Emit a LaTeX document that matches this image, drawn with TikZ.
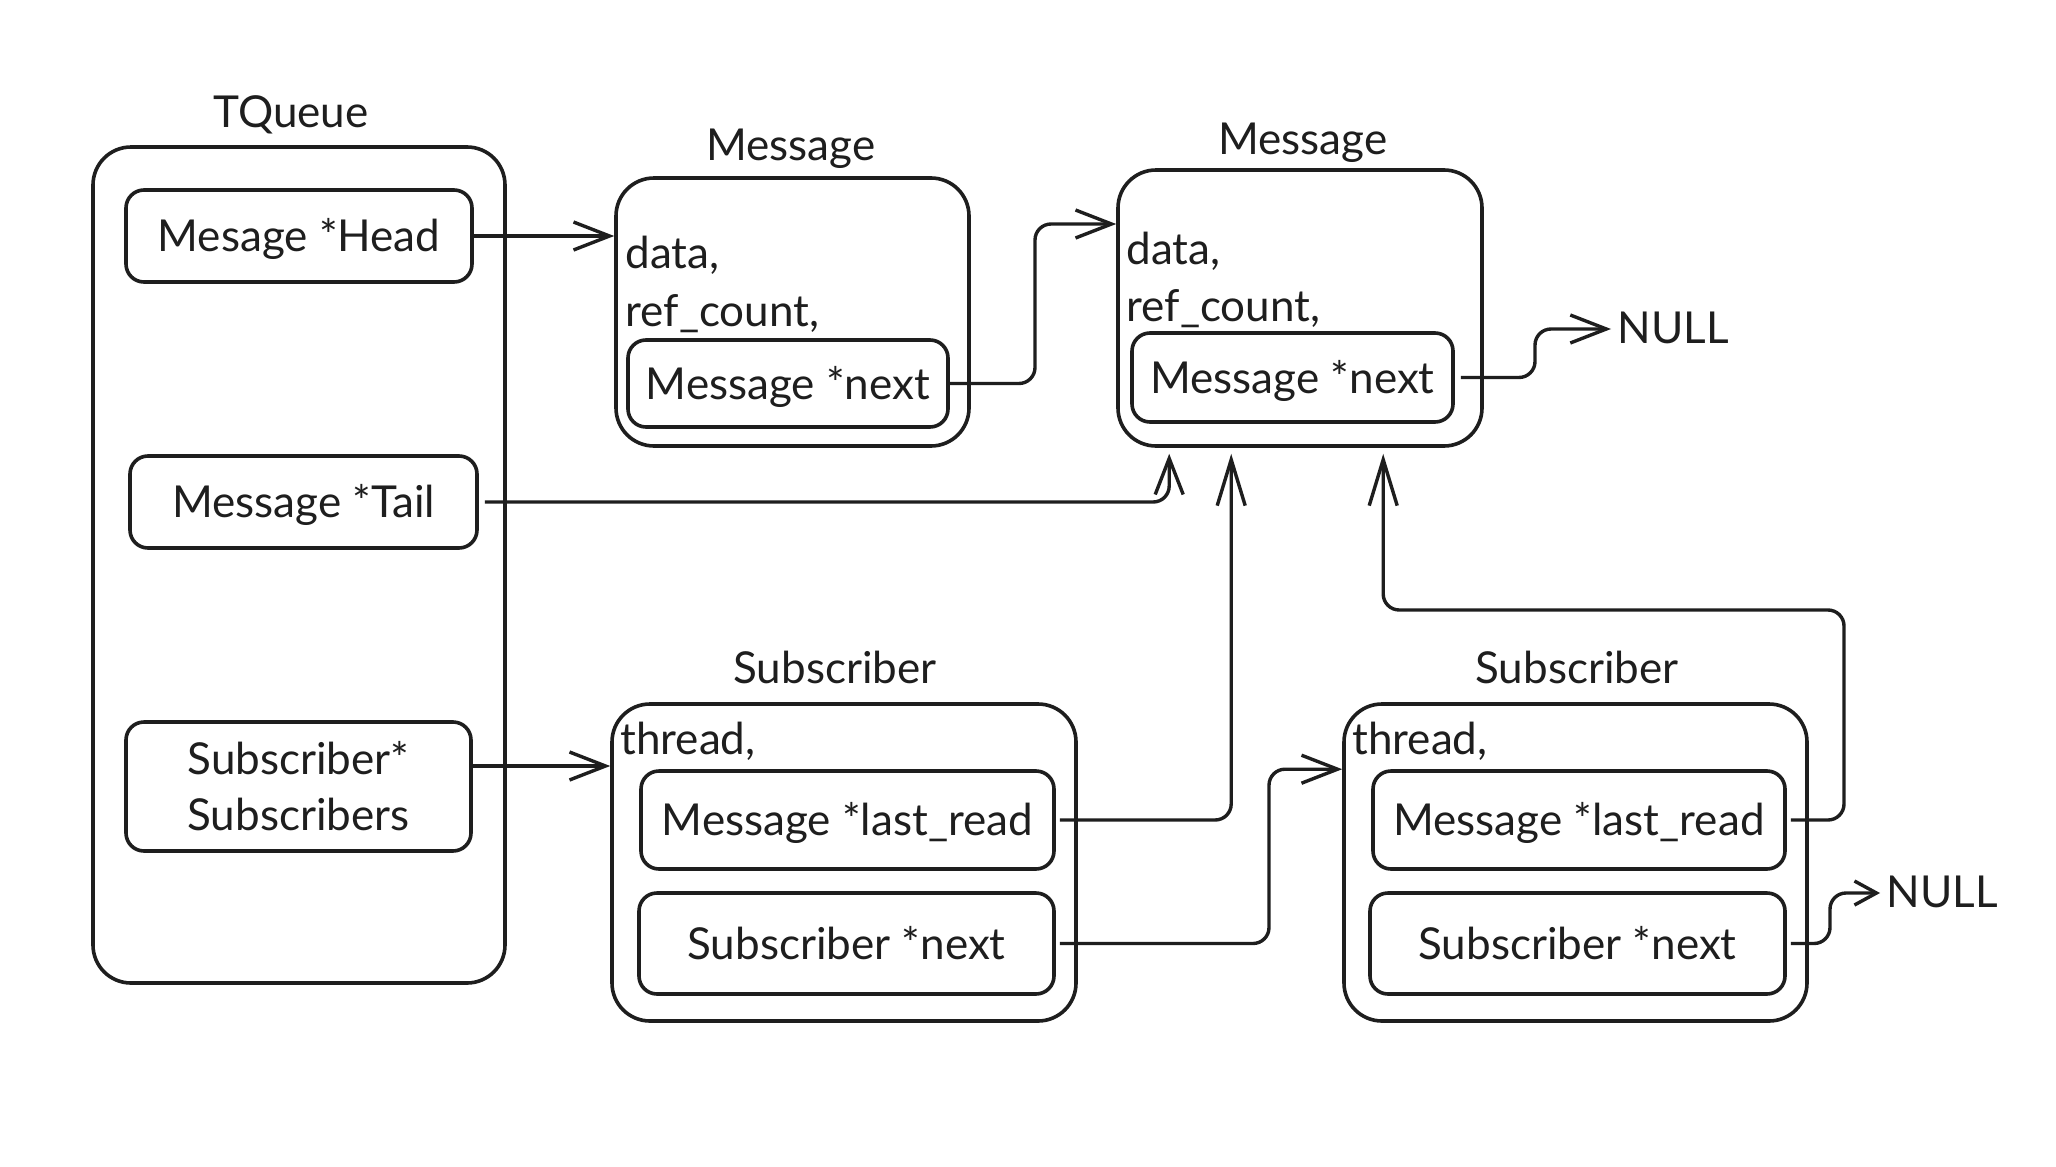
\documentclass[tikz,border=0pt]{standalone}
\usepackage{fontspec}
\setmainfont{Lato}
\usetikzlibrary{arrows.meta}
\definecolor{ink}{RGB}{30,30,30}
\newcommand\tf{\fontsize{22}{28}\selectfont}
\begin{document}
\begin{tikzpicture}[x=0.5pt,y=-0.5pt,
  outerbox/.style={draw=ink, line width=1.8pt, rounded corners=19pt, inner sep=0pt},
  innerbox/.style={draw=ink, line width=1.8pt, rounded corners=9pt, inner sep=0pt, font=\tf, text=ink, align=center},
  oneline/.style={text height=15.8pt, text depth=0pt},
  lbl/.style={font=\tf, text=ink, inner sep=0pt},
  arr/.style={draw=ink, line width=1.7pt, rounded corners=8pt, -{Straight Barb[length=18pt,width=14pt,line width=1.7pt]}},
  bigtip/.style={-{Straight Barb[length=23pt,width=14pt,line width=1.7pt]}},
  smalltip/.style={-{Straight Barb[length=11pt,width=12pt,line width=1.7pt]}},
]
\useasboundingbox (0,0) rectangle (2056,1167);
\fill[white] (0,0) rectangle (2056,1167);

% TQueue
\node[lbl, anchor=base] (tql) at (291,127) {TQueue};
\node[outerbox, minimum width=206pt, minimum height=418pt] (tq) at (299,565) {};
\node[innerbox, oneline, minimum width=173pt, minimum height=46pt] (head) at (299,236) {Mesage *Head};
\node[innerbox, oneline, minimum width=173.5pt, minimum height=46pt] (tail) at (303.5,502) {Message *Tail};
\node[innerbox, minimum width=172.5pt, minimum height=64.5pt] (subs) at (298.5,786.5) {Subscriber*\\Subscribers};

% Message 1
\node[lbl, anchor=base] (m1l) at (791,160) {Message};
\node[outerbox, minimum width=176.5pt, minimum height=134pt] (m1) at (792.5,312) {};
\node[lbl, anchor=base west] (m1d) at (625,268) {data,};
\node[lbl, anchor=base west] (m1r) at (625,326) {ref\_count,};
\node[innerbox, oneline, minimum width=160pt, minimum height=43.5pt] (m1next) at (788,383.5) {Message *next};

% Message 2
\node[lbl, anchor=base] (m2l) at (1303,154) {Message};
\node[outerbox, minimum width=182pt, minimum height=138pt] (m2) at (1300,308) {};
\node[lbl, anchor=base west] (m2d) at (1126,264) {data,};
\node[lbl, anchor=base west] (m2r) at (1126,321) {ref\_count,};
\node[innerbox, oneline, minimum width=160.5pt, minimum height=44.5pt] (m2next) at (1292.5,377.5) {Message *next};
\node[lbl, anchor=base west] (null1) at (1617,343) {NULL};

% Subscriber 1
\node[lbl, anchor=base] (s1l) at (835,683) {Subscriber};
\node[outerbox, minimum width=232pt, minimum height=158.5pt] (s1) at (844,862.5) {};
\node[lbl, anchor=base west] (s1t) at (620,754) {thread,};
\node[innerbox, oneline, minimum width=206.5pt, minimum height=49pt] (s1last) at (847.5,820) {Message *last\_read};
\node[innerbox, oneline, minimum width=207.5pt, minimum height=50.5pt] (s1next) at (846.5,943.5) {Subscriber *next};

% Subscriber 2
\node[lbl, anchor=base] (s2l) at (1577,683) {Subscriber};
\node[outerbox, minimum width=231.5pt, minimum height=158.5pt] (s2) at (1575.5,862.5) {};
\node[lbl, anchor=base west] (s2t) at (1352,754) {thread,};
\node[innerbox, oneline, minimum width=206pt, minimum height=49pt] (s2last) at (1579,820) {Message *last\_read};
\node[innerbox, oneline, minimum width=207.5pt, minimum height=50.5pt] (s2next) at (1577.5,943.5) {Subscriber *next};
\node[lbl, anchor=base west] (null2) at (1886,907) {NULL};

% helper coordinates
\coordinate (y224) at (0,224);
\coordinate (y766) at (0,766);

% connectors
\draw[arr] (head.east) -- (m1.west |- head.east);
\draw[arr] (m1next.east) -- (1035,383.5) -- (1035,224) -- (m2.west |- y224);
\draw[arr, shorten <=3pt, shorten >=3pt] (tail.east) -| ([xshift=26.5pt]m2.south west);
\draw[arr, bigtip, shorten <=2pt, shorten >=3pt] (s1last.east) -| ([xshift=57.5pt]m2.south west);
\draw[arr, bigtip, shorten <=2pt, shorten >=3pt] (s2last.east) -| (1844,610) -| ([xshift=133.5pt]m2.south west);
\draw[arr] (subs.east |- y766) -- (s1.west |- y766);
\draw[arr, shorten <=2pt] (s1next.east) -| (1269,850) |- (s2.west |- s2last.north);
\draw[arr, shorten <=3pt, shorten >=3pt] (m2next.east) -- (1535,377.5) -- (1535,329) -- (null1.west |- 0,329);
\draw[arr, smalltip, shorten <=2pt, shorten >=3pt] (s2next.east) -- (1830,943.5) -- (1830,893) -- (null2.west |- 0,893);
\end{tikzpicture}
\end{document}
